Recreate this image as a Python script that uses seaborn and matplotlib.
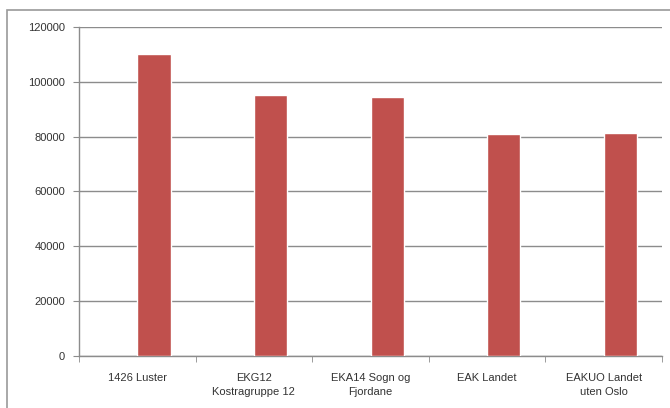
import seaborn as sns
import numpy as np
import pandas as pd
import matplotlib.pyplot as plt
from matplotlib.patches import Rectangle
from matplotlib.ticker import FixedLocator

categories = ["1426 Luster", "EKG12\nKostragruppe 12", "EKA14 Sogn og\nFjordane",
              "EAK Landet", "EAKUO Landet\nuten Oslo"]
# the Excel source has an empty first series, so the bars sit right of centre
series_empty = [np.nan] * 5
series_values = [110000, 95300, 94500, 81000, 81300]
yticks = [0, 20000, 40000, 60000, 80000, 100000, 120000]

df = pd.DataFrame({
    "kategori": categories * 2,
    "serie": ["tom"] * 5 + ["verdi"] * 5,
    "verdi": series_empty + series_values,
})

sns.set_style("white")
plt.rcParams['font.family'] = ['Liberation Sans', 'DejaVu Sans']

fig = plt.figure(figsize=(6.7, 4.08), dpi=100)
ax = fig.add_axes([0.118, 0.1275, 0.870, 0.8065])

sns.barplot(data=df, x="kategori", y="verdi", hue="serie", order=categories,
            hue_order=["tom", "verdi"], palette=["#C0504D", "#C0504D"], saturation=1,
            width=0.57, errorbar=None, legend=False, ax=ax, zorder=3)

ax.set_ylim(0, 120000)
ax.set_xlim(-0.5, len(categories) - 0.5)
ax.set_yticks(yticks)
ax.set_yticklabels([str(v) for v in yticks], fontsize=8, color="#333333")
ax.set_xticklabels(categories, fontsize=8, color="#333333", linespacing=1.5)
ax.set_xlabel("")
ax.set_ylabel("")

ax.grid(axis="y", color="#8c8c8c", linewidth=1, zorder=0)
ax.set_axisbelow(True)
for side in ["top", "right"]:
    ax.spines[side].set_visible(False)
for side in ["left", "bottom"]:
    ax.spines[side].set_color("#8c8c8c")
    ax.spines[side].set_linewidth(1)

# tick marks between categories, like Excel
ax.xaxis.set_minor_locator(FixedLocator([i - 0.5 for i in range(len(categories) + 1)]))
ax.tick_params(axis="x", which="major", length=0, pad=12)
ax.tick_params(axis="x", which="minor", length=4, color="#8c8c8c", direction="out", bottom=True)
ax.tick_params(axis="y", length=4, color="#8c8c8c", direction="out", left=True, pad=6)

# outer chart border
fig.patches.append(Rectangle((0.011, -0.01), 0.99, 0.985, transform=fig.transFigure,
                             fill=False, edgecolor="#9a9a9a", linewidth=1.2))

fig.savefig("out.png", dpi=100)
